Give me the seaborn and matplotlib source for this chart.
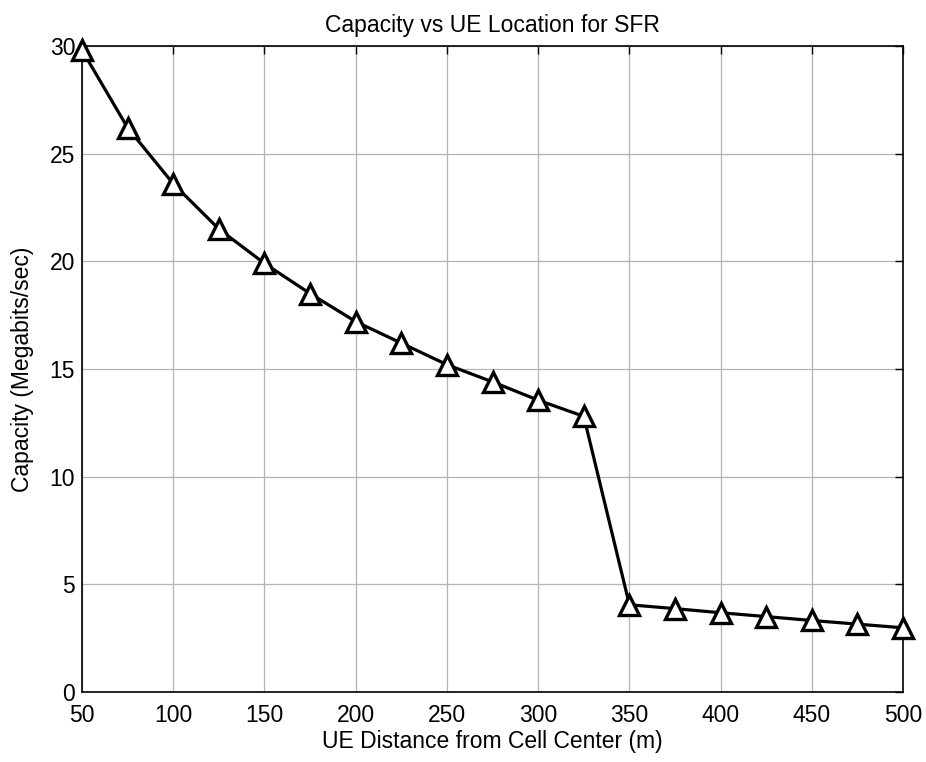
import matplotlib
matplotlib.use("Agg")
import matplotlib.pyplot as plt
import seaborn as sns
import pandas as pd

# UE distance from cell center (m) and achieved capacity (Mbit/s) under SFR
distance_m = [50, 75, 100, 125, 150, 175, 200, 225, 250, 275, 300, 325,
              350, 375, 400, 425, 450, 475, 500]
capacity_mbps = [29.8, 26.2, 23.6, 21.5, 19.9, 18.5, 17.2, 16.2, 15.2, 14.4,
                 13.55, 12.8, 4.05, 3.87, 3.68, 3.5, 3.32, 3.15, 2.98]

x_ticks = [50, 100, 150, 200, 250, 300, 350, 400, 450, 500]
y_ticks = [0, 5, 10, 15, 20, 25, 30]

df = pd.DataFrame({"distance": distance_m, "capacity": capacity_mbps})

sns.set_style("white")
plt.rcParams["font.family"] = ["Liberation Sans", "DejaVu Sans"]
plt.rcParams["text.color"] = "black"
plt.rcParams["axes.labelcolor"] = "black"

fig = plt.figure(figsize=(9.26, 7.62), dpi=100)
ax = fig.add_axes([0.0886, 0.0919, 0.8866, 0.8478])

sns.lineplot(data=df, x="distance", y="capacity", ax=ax, color="black",
             linewidth=2.3, marker="^", markersize=15,
             markerfacecolor="white", markeredgecolor="black",
             markeredgewidth=2.4, clip_on=False, zorder=5)

ax.set_xlim(50, 500)
ax.set_ylim(0, 30)
ax.set_xticks(x_ticks)
ax.set_yticks(y_ticks)
ax.grid(True, color="#b4b4b4", linewidth=0.9, linestyle="-")
ax.set_axisbelow(True)

for side in ax.spines.values():
    side.set_color("black")
    side.set_linewidth(1.2)

ax.tick_params(direction="in", length=6, width=1.0, top=True, right=True,
               labelsize=16.5, colors="black")
ax.tick_params(axis="x", pad=9)
ax.tick_params(axis="y", pad=5)

ax.set_title("Capacity vs UE Location for SFR", fontsize=16.5, pad=10,
             color="black")
ax.set_xlabel("UE Distance from Cell Center (m)", fontsize=16.5, labelpad=2)
ax.set_ylabel("Capacity (Megabits/sec)", fontsize=16.5, labelpad=11)

fig.savefig("out.png", dpi=100)
